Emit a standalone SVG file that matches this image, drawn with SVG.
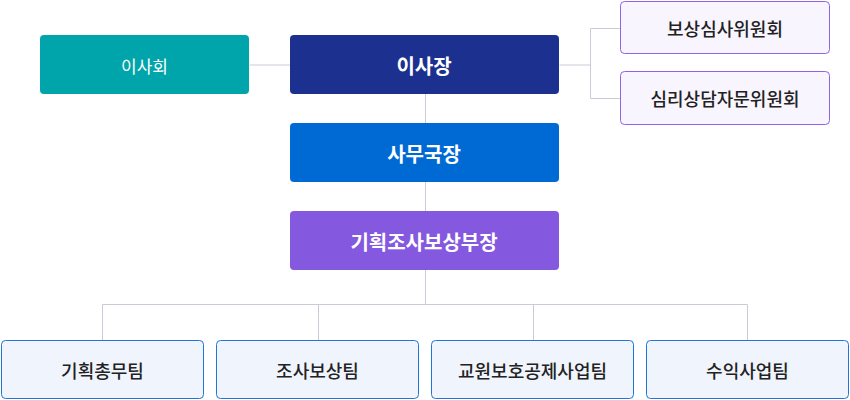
<svg xmlns="http://www.w3.org/2000/svg" width="850" height="400" viewBox="0 0 850 400">
<style>
text{font-family:"Noto Sans CJK KR","Noto Sans",sans-serif;text-anchor:middle;dominant-baseline:central}
.w{fill:#fff;font-size:20px;font-weight:700}
.w2{fill:#fff;font-size:17px;font-weight:400}
.d{fill:#222;font-size:18px;font-weight:500}
.com{fill:#F8F5FF;stroke:#8E63E6;stroke-width:1}
.team{fill:#F0F5FD;stroke:#1F76D6;stroke-width:1}
.ln{fill:none;stroke:#C9CCD6;stroke-width:1}
</style>
<g id="connectors">
<path class="ln" d="M249.5 65H290.5M559.5 65H590.5M590.5 28.5V98.5H620.5M590.5 28.5H620.5M425.5 94V123M425.5 182V211M425.5 270V304.5M102.5 304.5H747.5M102.5 304.5V340M318.5 304.5V340M533.5 304.5V340M747.5 304.5V340"/>
</g>
<g id="board"><rect x="40" y="35" width="209" height="59" rx="4" fill="#00A5AC"/><text class="w2" x="144.5" y="65">이사회</text></g>
<g id="chairman"><rect x="290" y="35" width="269" height="59" rx="4" fill="#1C318F"/><text class="w" x="424" y="65">이사장</text></g>
<g id="committee1"><rect class="com" x="620.5" y="1.5" width="209" height="52" rx="4"/><text class="d" x="725" y="28">보상심사위원회</text></g>
<g id="committee2"><rect class="com" x="620.5" y="71.5" width="209" height="53" rx="4"/><text class="d" x="725" y="98">심리상담자문위원회</text></g>
<g id="secretary"><rect x="290" y="123" width="269" height="59" rx="4" fill="#006AD4"/><text class="w" x="424" y="153">사무국장</text></g>
<g id="director"><rect x="290" y="211" width="269" height="59" rx="4" fill="#8458DF"/><text class="w" x="424" y="241">기획조사보상부장</text></g>
<g id="team1"><rect class="team" x="1.5" y="340.5" width="202" height="58" rx="4"/><text class="d" x="102.5" y="370">기획총무팀</text></g>
<g id="team2"><rect class="team" x="216.5" y="340.5" width="202" height="58" rx="4"/><text class="d" x="317.5" y="370">조사보상팀</text></g>
<g id="team3"><rect class="team" x="431.5" y="340.5" width="202" height="58" rx="4"/><text class="d" x="532.5" y="370">교원보호공제사업팀</text></g>
<g id="team4"><rect class="team" x="646.5" y="340.5" width="202" height="58" rx="4"/><text class="d" x="747.5" y="370">수익사업팀</text></g>
</svg>
